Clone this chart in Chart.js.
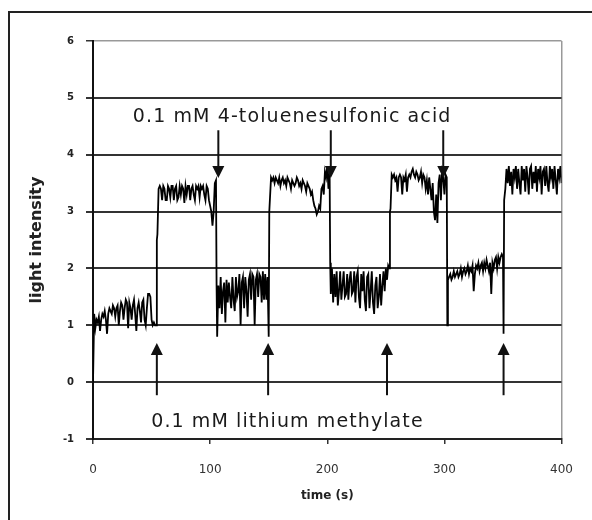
<!DOCTYPE html>
<html>
<head>
<meta charset="utf-8">
<script src="https://cdn.jsdelivr.net/npm/chart.js@4.4.1/dist/chart.umd.min.js"></script>
<style>
  html, body { margin: 0; padding: 0; background: #fff; }
  #wrap { position: relative; width: 592px; height: 520px; }
</style>
</head>
<body>
<div id="wrap"><canvas id="lightChart"></canvas></div>
<script>
// data (time in s, light intensity)
const time = [
  0, 1, 2, 3, 4, 5, 6, 7, 8, 9,
  10, 11, 12, 13, 14, 15, 16, 17, 18, 19,
  20, 21, 22, 23, 24, 25, 26, 27, 28, 29,
  30, 31, 32, 33, 34, 35, 36, 37, 38, 39,
  40, 41, 42, 43, 44, 45, 46, 47, 48, 49,
  50, 51, 52, 53, 54, 54.5, 55, 56,
  57, 58, 59, 60, 61, 62, 63, 64, 65, 66,
  67, 68, 69, 70, 71, 72, 73, 74, 75, 76,
  77, 78, 79, 80, 81, 82, 83, 84, 85, 86,
  87, 88, 89, 90, 91, 92, 93, 94, 95, 96,
  97, 98, 99, 100, 101, 102, 103, 104, 105, 105.5,
  106, 107, 108, 109, 110, 111, 112, 113, 114, 115,
  116, 117, 118, 119, 120, 121, 122, 123, 124, 125,
  126, 127, 128, 129, 130, 131, 132, 133, 134, 135,
  136, 137, 138, 139, 140, 141, 142, 143, 144, 145,
  146, 147, 148, 149, 150, 150.5, 151, 152,
  153, 154, 155, 156, 157, 158, 159, 160, 161, 162,
  163, 164, 165, 166, 167, 168, 169, 170, 171, 172,
  173, 174, 175, 176, 177, 178, 179, 180, 181, 182,
  183, 184, 185, 186, 187, 188, 189, 190, 191, 192,
  193, 194, 195, 196, 197, 198, 199, 200, 201, 202, 202.5,
  203, 204, 205, 206, 207, 208, 209, 210, 211, 212,
  213, 214, 215, 216, 217, 218, 219, 220, 221, 222,
  223, 224, 225, 226, 227, 228, 229, 230, 231, 232,
  233, 234, 235, 236, 237, 238, 239, 240, 241, 242,
  243, 244, 245, 246, 247, 248, 249, 250, 251, 252, 253, 253.5, 254, 255,
  256, 257, 258, 259, 260, 261, 262, 263, 264, 265,
  266, 267, 268, 269, 270, 271, 272, 273, 274, 275,
  276, 277, 278, 279, 280, 281, 282, 283, 284, 285,
  286, 287, 288, 289, 290, 291, 292, 293, 294, 295,
  296, 297, 298, 299, 300, 301, 302, 302.5,
  303, 304, 305, 306, 307, 308, 309, 310, 311, 312,
  313, 314, 315, 316, 317, 318, 319, 320, 321, 322,
  323, 324, 325, 326, 327, 328, 329, 330, 331, 332,
  333, 334, 335, 336, 337, 338, 339, 340, 341, 342,
  343, 344, 345, 346, 347, 348, 349, 350, 350.5, 351, 352, 353,
  354, 355, 356, 357, 358, 359, 360, 361, 362, 363,
  364, 365, 366, 367, 368, 369, 370, 371, 372, 373,
  374, 375, 376, 377, 378, 379, 380, 381, 382, 383,
  384, 385, 386, 387, 388, 389, 390, 391, 392, 393,
  394, 395, 396, 397, 398, 399, 400
];
const intensity = [
  0.0, 1.2, 0.95, 1.1, 1.05, 1.15, 0.9, 1.1, 1.2, 1.15,
  1.25, 1.1, 0.85, 1.2, 1.3, 1.25, 1.2, 1.35, 1.3, 1.15,
  1.3, 1.35, 1.0, 1.25, 1.4, 1.35, 1.1, 1.3, 1.45, 1.4,
  0.95, 1.4, 1.3, 1.1, 1.35, 1.45, 1.2, 0.9, 1.3, 1.4,
  1.25, 1.05, 1.4, 1.45, 1.1, 1.0, 1.3, 1.55, 1.55, 1.5,
  1.1, 1.0, 1.05, 1.0, 1.0, 2.5, 2.6, 3.4,
  3.45, 3.4, 3.2, 3.45, 3.4, 3.2, 3.2, 3.45, 3.4, 3.25,
  3.45, 3.45, 3.2, 3.4, 3.45, 3.2, 3.25, 3.45, 3.3, 3.45,
  3.4, 3.15, 3.45, 3.3, 3.45, 3.45, 3.2, 3.4, 3.45, 3.3,
  3.2, 3.45, 3.4, 3.45, 3.25, 3.45, 3.4, 3.45, 3.3, 3.2,
  3.45, 3.4, 3.2, 3.1, 3.0, 2.75, 3.0, 3.5, 3.55, 1.7,
  0.8, 1.7, 1.3, 1.85, 1.2, 1.6, 1.75, 1.05, 1.8, 1.4,
  1.75, 1.5, 1.3, 1.85, 1.45, 1.25, 1.85, 1.5, 1.6, 1.9,
  1.0, 1.75, 1.85, 1.3, 1.85, 1.6, 1.15, 1.8, 1.9, 1.45,
  1.9, 1.85, 1.0, 1.8, 1.9, 1.5, 1.9, 1.85, 1.4, 1.95,
  1.45, 1.9, 1.45, 1.85, 0.8, 3.0, 3.0, 3.6,
  3.55, 3.6, 3.5, 3.6, 3.55, 3.5, 3.6, 3.45, 3.55, 3.6,
  3.5, 3.55, 3.45, 3.6, 3.55, 3.5, 3.4, 3.55, 3.5, 3.45,
  3.5, 3.6, 3.55, 3.45, 3.5, 3.4, 3.55, 3.5, 3.45, 3.35,
  3.5, 3.45, 3.4, 3.3, 3.35, 3.2, 3.1, 3.05, 2.95, 3.0,
  3.1, 3.05, 3.4, 3.45, 3.3, 3.7, 3.6, 3.8, 3.4, 3.7, 2.1,
  1.55, 2.0, 1.4, 1.9, 1.5, 1.95, 1.35, 1.6, 1.95, 1.45,
  1.7, 1.95, 1.5, 1.55, 1.9, 1.45, 1.8, 1.95, 1.55, 1.6,
  1.95, 1.4, 1.85, 1.95, 1.5, 1.3, 1.9, 1.6, 1.95, 1.45,
  1.25, 1.85, 1.9, 1.3, 1.6, 1.95, 1.4, 1.2, 1.7, 1.85,
  1.3, 1.5, 1.9, 1.35, 1.7, 1.95, 1.6, 2.0, 1.8, 2.05, 2.0, 3.0, 3.05, 3.65,
  3.6, 3.65, 3.55, 3.6, 3.35, 3.6, 3.65, 3.6, 3.3, 3.6,
  3.55, 3.65, 3.35, 3.6, 3.65, 3.6, 3.7, 3.75, 3.65, 3.6,
  3.7, 3.65, 3.55, 3.6, 3.7, 3.5, 3.65, 3.6, 3.4, 3.55,
  3.3, 3.6, 3.4, 3.2, 3.5, 3.0, 2.85, 3.3, 2.8, 3.5,
  3.65, 3.2, 3.7, 3.6, 3.3, 3.65, 3.6, 1.0,
  1.8, 1.85, 1.9, 1.8, 1.85, 1.95, 1.85, 1.9, 1.95, 1.85,
  1.9, 2.0, 1.85, 1.95, 2.0, 1.9, 1.95, 2.05, 1.9, 2.0,
  1.95, 2.05, 1.6, 1.9, 2.05, 2.0, 2.1, 1.95, 2.05, 2.1,
  1.95, 2.1, 2.0, 2.15, 2.05, 1.95, 2.1, 1.55, 2.1, 2.0,
  2.15, 2.2, 2.0, 2.2, 2.1, 2.2, 2.25, 2.2, 0.85, 3.2, 3.4, 3.75,
  3.5, 3.8, 3.45, 3.7, 3.3, 3.75, 3.6, 3.8, 3.4, 3.75,
  3.5, 3.3, 3.8, 3.55, 3.75, 3.35, 3.8, 3.6, 3.3, 3.75,
  3.8, 3.4, 3.7, 3.5, 3.8, 3.35, 3.75, 3.6, 3.8, 3.3,
  3.7, 3.75, 3.45, 3.8, 3.5, 3.35, 3.8, 3.6, 3.75, 3.4,
  3.8, 3.55, 3.3, 3.75, 3.6, 3.8, 3.5
];

// axis ticks
const xTicks = [0, 100, 200, 300, 400];
const yTicks = [-1, 0, 1, 2, 3, 4, 5, 6];

// additions: acid (arrows down), base (arrows up)
const acidTimes = [107, 203, 299];
const baseTimes = [54.5, 149.5, 251, 350.5];
const acidArrow = [4.43, 3.59];   // from, tip
const baseArrow = [-0.23, 0.69];
const acidLabel = { text: '0.1 mM 4-toluenesulfonic acid', t: 170, v: 4.66 };
const baseLabel = { text: '0.1 mM lithium methylate', t: 166, v: -0.70 };

const points = time.map((t, i) => ({ x: t, y: intensity[i] }));

function drawArrow(ctx, px, fromY, tipY) {
  const dir = tipY > fromY ? 1 : -1;
  const head = 12;
  ctx.beginPath();
  ctx.moveTo(px, fromY);
  ctx.lineTo(px, tipY - dir * head);
  ctx.stroke();
  ctx.beginPath();
  ctx.moveTo(px, tipY);
  ctx.lineTo(px - 6, tipY - dir * head);
  ctx.lineTo(px + 6, tipY - dir * head);
  ctx.closePath();
  ctx.fill();
}

const annotations = {
  id: 'annotations',
  beforeDraw(chart) {
    const ctx = chart.ctx;
    ctx.save();
    ctx.strokeStyle = '#222';
    ctx.lineWidth = 2;
    ctx.beginPath();
    ctx.moveTo(9, chart.height);
    ctx.lineTo(9, 12);
    ctx.lineTo(chart.width, 12);
    ctx.stroke();
    ctx.restore();
  },
  afterDatasetsDraw(chart) {
    const { ctx, scales: { x, y } } = chart;
    ctx.save();
    ctx.strokeStyle = '#111';
    ctx.fillStyle = '#111';
    ctx.lineWidth = 2;
    acidTimes.forEach(t => drawArrow(ctx, x.getPixelForValue(t), y.getPixelForValue(acidArrow[0]), y.getPixelForValue(acidArrow[1])));
    baseTimes.forEach(t => drawArrow(ctx, x.getPixelForValue(t), y.getPixelForValue(baseArrow[0]), y.getPixelForValue(baseArrow[1])));

    ctx.font = '19px "DejaVu Sans"';
    ctx.letterSpacing = '1.1px';
    ctx.textAlign = 'center';
    ctx.textBaseline = 'middle';
    ctx.fillStyle = '#1a1a1a';
    [acidLabel, baseLabel].forEach(l => {
      ctx.fillText(l.text, x.getPixelForValue(l.t), y.getPixelForValue(l.v));
    });
    ctx.restore();
  }
};

const ctx = document.getElementById('lightChart').getContext('2d');
const chart = new Chart(ctx, {
  type: 'line',
  data: {
    datasets: [{
      label: 'light intensity',
      data: points,
      borderColor: '#000',
      borderWidth: 1.8,
      pointRadius: 0,
      tension: 0
    }]
  },
  options: {
    responsive: true,
    maintainAspectRatio: false,
    animation: false,
    layout: { padding: { top: 41, right: 29, left: 0, bottom: 0 } },
    plugins: {
      legend: { display: false },
      tooltip: { enabled: false }
    },
    scales: {
      x: {
        type: 'linear',
        min: 0,
        max: 400,
        afterBuildTicks: (scale) => { scale.ticks = xTicks.map(v => ({ value: v })); },
        afterFit: (scale) => { scale.height = 81; },
        grid: {
          color: (c) => (c.tick && c.tick.value === 400 ? '#999' : 'rgba(0,0,0,0)'),
          tickColor: '#333',
          tickLength: 5,
          lineWidth: 1.5
        },
        border: { color: '#222', width: 2 },
        ticks: {
          padding: 19,
          color: '#333',
          font: { family: 'DejaVu Sans', size: 12 },
          maxRotation: 0
        },
        title: {
          display: true,
          text: 'time (s)',
          color: '#222',
          font: { family: 'DejaVu Sans', size: 12, weight: 'bold' },
          padding: { top: 0, bottom: 17 }
        }
      },
      y: {
        min: -1,
        max: 6,
        afterBuildTicks: (scale) => { scale.ticks = yTicks.map(v => ({ value: v })); },
        afterFit: (scale) => { scale.width = 93; },
        grid: {
          color: (c) => (c.tick && c.tick.value === 6 ? '#999' : '#333'),
          lineWidth: (c) => (c.tick && c.tick.value === 6 ? 1.5 : 2),
          tickColor: '#333',
          tickLength: 7
        },
        border: { color: '#111', width: 2 },
        ticks: {
          padding: 12,
          color: '#222',
          font: { family: 'DejaVu Sans', size: 10, weight: 'bold' }
        },
        title: {
          display: true,
          text: 'light intensity',
          color: '#222',
          font: { family: 'DejaVu Sans', size: 16, weight: 'bold' },
          padding: { top: 27, bottom: 0 }
        }
      }
    }
  },
  plugins: [annotations]
});
</script>
</body>
</html>
